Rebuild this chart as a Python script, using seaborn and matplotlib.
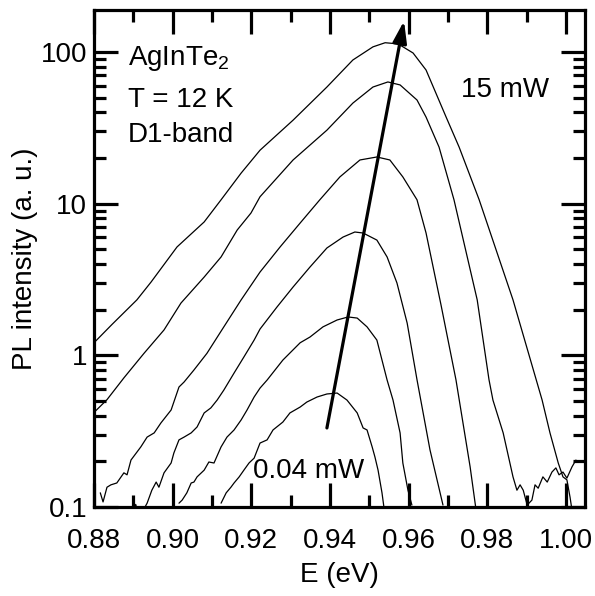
import numpy as np
import pandas as pd
import matplotlib
matplotlib.use("Agg")
import matplotlib.pyplot as plt
import seaborn as sns

# ---------------- data ----------------
powers = ["15 mW", "P5", "P4", "P3", "P2", "0.04 mW"]

E1 = [0.8800, 0.8846, 0.8909, 0.8945, 0.9011, 0.9080, 0.9123, 0.9174, 0.9222, 0.9306,
      0.9392, 0.9458, 0.9509, 0.9540, 0.9573, 0.9611, 0.9644, 0.9695, 0.9728, 0.9779,
      0.9865, 0.9924, 0.9939, 0.9959, 0.9980, 0.9992, 1.0002, 1.0010, 1.0015]
I1 = [1.21, 1.60, 2.32, 3.04, 5.18, 7.57, 10.6, 15.9, 22.5, 35.5,
      58.7, 88.5, 108, 115, 113, 98.4, 76, 37.2, 23.6, 10.6,
      2.32, 0.69, 0.507, 0.308, 0.195, 0.158, 0.151, 0.116, 0.095]

E2 = [0.8800, 0.8833, 0.8876, 0.8927, 0.8978, 0.9021, 0.9080, 0.9123, 0.9164, 0.9199,
      0.9222, 0.9306, 0.9392, 0.9458, 0.9509, 0.9547, 0.9578, 0.9621, 0.9644, 0.9677,
      0.9715, 0.9774, 0.9804, 0.9814, 0.9840, 0.9865, 0.9875, 0.9883, 0.9891, 0.9901,
      0.9913, 0.9921, 0.9929, 0.9941, 0.9952, 0.9964, 0.9974, 0.9982, 0.9992, 1.0002,
      1.0015, 1.0025]
I2 = [0.42, 0.51, 0.71, 1.03, 1.47, 2.21, 3.28, 4.45, 6.70, 8.67,
      11.1, 19.4, 30.5, 46, 58.7, 63.4, 60.6, 48.2, 37.2, 23.6,
      10.6, 2.32, 0.69, 0.507, 0.308, 0.158, 0.129, 0.140, 0.129, 0.103,
      0.111, 0.140, 0.133, 0.158, 0.146, 0.170, 0.181, 0.163, 0.170, 0.155,
      0.184, 0.204]

E3 = [0.8816, 0.8823, 0.8833, 0.8843, 0.8858, 0.8876, 0.8884, 0.8894, 0.8919, 0.8935,
      0.8953, 0.8970, 0.8996, 0.9016, 0.9029, 0.9054, 0.9087, 0.9125, 0.9174, 0.9222,
      0.9273, 0.9324, 0.9374, 0.9425, 0.9476, 0.9519, 0.9552, 0.9585, 0.9621, 0.9644,
      0.9682, 0.9720, 0.9756, 0.9771]
I3 = [0.124, 0.108, 0.135, 0.140, 0.144, 0.168, 0.163, 0.204, 0.249, 0.289,
      0.308, 0.358, 0.436, 0.618, 0.667, 0.80, 1.03, 1.47, 2.32, 3.54,
      5.18, 7.45, 10.6, 15.0, 19.4, 20.3, 19.4, 15.0, 10.6, 6.40,
      2.15, 0.69, 0.184, 0.096]

E4 = [0.8900, 0.8906, 0.8912, 0.8925, 0.8935, 0.8947, 0.8958, 0.8965, 0.8978, 0.8996,
      0.9003, 0.9016, 0.9029, 0.9047, 0.9062, 0.9080, 0.9097, 0.9113, 0.9130, 0.9156,
      0.9181, 0.9207, 0.9222, 0.9265, 0.9306, 0.9349, 0.9392, 0.9433, 0.9463, 0.9484,
      0.9519, 0.9545, 0.9570, 0.9596, 0.9621, 0.9654, 0.9687]
I4 = [0.090, 0.104, 0.092, 0.095, 0.106, 0.129, 0.146, 0.135, 0.168, 0.195,
      0.227, 0.277, 0.289, 0.308, 0.337, 0.417, 0.450, 0.507, 0.590, 0.764,
      0.975, 1.26, 1.49, 2.08, 2.82, 3.82, 5.10, 6.02, 6.50, 6.40,
      5.75, 4.45, 3.00, 1.63, 0.69, 0.238, 0.103]

E5 = [0.9016, 0.9024, 0.9036, 0.9047, 0.9054, 0.9062, 0.9080, 0.9092, 0.9105, 0.9123,
      0.9138, 0.9156, 0.9174, 0.9189, 0.9207, 0.9222, 0.9240, 0.9280, 0.9324, 0.9349,
      0.9382, 0.9418, 0.9446, 0.9469, 0.9494, 0.9519, 0.9545, 0.9560, 0.9578, 0.9585,
      0.9598, 0.9608]
I5 = [0.106, 0.111, 0.124, 0.144, 0.146, 0.158, 0.175, 0.198, 0.195, 0.249,
      0.289, 0.322, 0.375, 0.436, 0.531, 0.608, 0.687, 0.93, 1.21, 1.32,
      1.54, 1.71, 1.79, 1.76, 1.54, 1.26, 0.687, 0.507, 0.308, 0.195,
      0.129, 0.103]

E6 = [0.9123, 0.9136, 0.9148, 0.9156, 0.9169, 0.9181, 0.9194, 0.9207, 0.9222, 0.9240,
      0.9255, 0.9280, 0.9298, 0.9324, 0.9341, 0.9367, 0.9392, 0.9418, 0.9443, 0.9469,
      0.9484, 0.9494, 0.9507, 0.9514, 0.9522, 0.9532, 0.9538]
I6 = [0.106, 0.124, 0.135, 0.144, 0.158, 0.175, 0.195, 0.210, 0.264, 0.277,
      0.322, 0.363, 0.417, 0.456, 0.492, 0.531, 0.556, 0.564, 0.507, 0.417,
      0.332, 0.322, 0.249, 0.214, 0.175, 0.124, 0.095]

arrow_E = [0.9392, 0.9588]
arrow_I = [0.332, 160.0]

x_ticks = [0.88, 0.90, 0.92, 0.94, 0.96, 0.98, 1.00]
x_ticklabels = ["0.88", "0.90", "0.92", "0.94", "0.96", "0.98", "1.00"]
y_ticks = [0.1, 1, 10, 100]
y_ticklabels = ["0.1", "1", "10", "100"]

# ---------------- build table ----------------
curves = [(E1, I1), (E2, I2), (E3, I3), (E4, I4), (E5, I5), (E6, I6)]
rows = []
for name, (ee, ii) in zip(powers, curves):
    for k, (e, i) in enumerate(zip(ee, ii)):
        rows.append({"curve": name, "order": k, "E": e, "I": i})
df = pd.DataFrame(rows)

# ---------------- style ----------------
sns.set_style("ticks")
plt.rcParams["font.family"] = ["Liberation Sans", "DejaVu Sans"]
plt.rcParams["mathtext.fontset"] = "custom"
plt.rcParams["mathtext.rm"] = "Liberation Sans"
plt.rcParams["mathtext.it"] = "Liberation Sans:italic"
plt.rcParams["mathtext.bf"] = "Liberation Sans:bold"
for key in ["text.color", "axes.labelcolor", "xtick.color", "ytick.color", "axes.edgecolor"]:
    plt.rcParams[key] = "black"

FS = 20
fig = plt.figure(figsize=(5.95, 5.96), dpi=100)
ax = fig.add_axes([94 / 595, 1 - 507 / 596, 491 / 595, 497 / 596])

sns.lineplot(data=df, x="E", y="I", units="curve", estimator=None, sort=False,
             color="black", linewidth=0.9, ax=ax, legend=False)

ax.set_yscale("log")
ax.set_xlim(0.88, 1.0048)
ax.set_ylim(0.1, 189)

ax.set_xticks(x_ticks, labels=x_ticklabels)
ax.set_xticks(np.arange(0.89, 1.0, 0.02), minor=True)
ax.set_yticks(y_ticks, labels=y_ticklabels)
ax.yaxis.set_minor_locator(matplotlib.ticker.LogLocator(base=10, subs=np.arange(2, 10)))
ax.yaxis.set_minor_formatter(matplotlib.ticker.NullFormatter())

for s in ax.spines.values():
    s.set_linewidth(2.3)
    s.set_visible(True)
    s.set_color("black")
ax.tick_params(which="major", direction="in", length=17, width=2.3,
               top=True, right=True, labelsize=FS, colors="black")
ax.tick_params(which="minor", direction="in", length=8.5, width=2.3,
               top=True, right=True, colors="black")
ax.tick_params(axis="x", which="major", pad=15)
ax.tick_params(axis="y", which="major", pad=5)

ax.set_xlabel("E (eV)", fontsize=FS, color="black")
ax.set_ylabel("PL intensity (a. u.)", fontsize=FS, color="black")
ax.xaxis.set_label_coords(0.5, -0.11)
ax.yaxis.set_label_coords(-0.115, 0.5)

ax.annotate("", xy=(arrow_E[1], arrow_I[1]), xytext=(arrow_E[0], arrow_I[0]),
            arrowprops=dict(arrowstyle="-|>,head_length=1.3,head_width=0.42",
                            lw=2.3, color="black", shrinkA=0, shrinkB=0,
                            mutation_scale=10))

ax.text(0.069, 0.889, "AgInTe$_2$", transform=ax.transAxes, fontsize=FS, va="baseline", color="black")
ax.text(0.069, 0.805, "T = 12 K", transform=ax.transAxes, fontsize=FS, va="baseline", color="black")
ax.text(0.069, 0.734, "D1-band", transform=ax.transAxes, fontsize=FS, va="baseline", color="black")
ax.text(0.747, 0.825, "15 mW", transform=ax.transAxes, fontsize=FS, va="baseline", color="black")
ax.text(0.324, 0.058, "0.04 mW", transform=ax.transAxes, fontsize=FS, va="baseline", color="black")

fig.savefig("out.png", dpi=100)
